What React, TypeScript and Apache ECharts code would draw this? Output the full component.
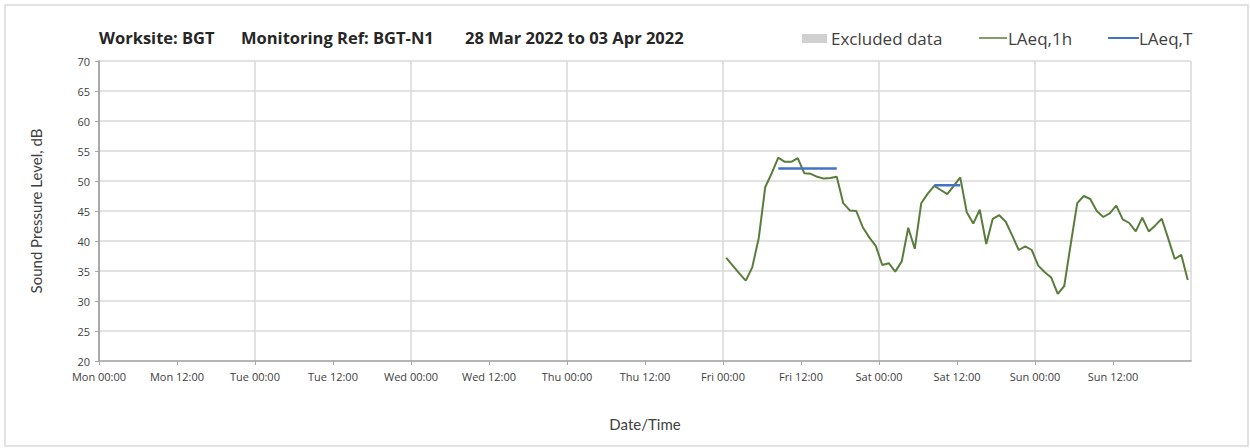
import React, { useEffect, useRef } from "react";
import * as echarts from "echarts";

// Tick labels for x axis (every 12 hours starting Mon 00:00)
const xTickLabels = [
  "Mon 00:00", "Mon 12:00", "Tue 00:00", "Tue 12:00", "Wed 00:00", "Wed 12:00",
  "Thu 00:00", "Thu 12:00", "Fri 00:00", "Fri 12:00", "Sat 00:00", "Sat 12:00",
  "Sun 00:00", "Sun 12:00", "Mon 00:00",
];

// Hourly LAeq,1h values, first one at Fri 00:30 (hours since Mon 00:00)
const hourlyStartHour = 96.5;
const laeq1h = [
  // Fri
  37.2, 35.9, 34.6, 33.4, 35.6, 40.5, 49.0, 51.3, 53.9, 53.2, 53.2, 53.8,
  51.3, 51.2, 50.7, 50.4, 50.5, 50.7, 46.3, 45.1, 45.0, 42.3, 40.6, 39.2,
  // Sat
  36.0, 36.3, 34.9, 36.6, 42.2, 38.7, 46.3, 47.9, 49.2, 48.5, 47.8, 49.2,
  50.6, 44.8, 42.9, 45.2, 39.5, 43.7, 44.3, 43.2, 40.9, 38.5, 39.1, 38.5,
  // Sun
  35.9, 34.8, 33.9, 31.2, 32.5, 39.5, 46.3, 47.5, 47.0, 45.0, 44.0, 44.6,
  45.9, 43.6, 43.0, 41.6, 43.9, 41.6, 42.6, 43.7, 40.4, 37.0, 37.7, 33.5,
];

// LAeq,T periods: start hour, end hour, level
const laeqTStart = [104.5, 128.5];
const laeqTEnd = [113.5, 132.5];
const laeqTValue = [52.1, 49.3];

const titleParts = ["Worksite: BGT", "Monitoring Ref: BGT-N1", "28 Mar 2022 to 03 Apr 2022"];
const legendLabels = ["Excluded data", "LAeq,1h", "LAeq,T"];
const yAxisTitle = "Sound Pressure Level, dB";
const xAxisTitle = "Date/Time";

const FONT = "Lato, 'Open Sans', sans-serif";
const FONT2 = "'Open Sans', Lato, sans-serif";
const GREEN = "#5a7d3c";
const BLUE = "#4472c4";

export default function App() {
  const ref = useRef<HTMLDivElement>(null);

  useEffect(() => {
    if (!ref.current) return;
    const chart = echarts.init(ref.current, undefined, { renderer: "svg" });

    const lineData = laeq1h.map((v, i) => [hourlyStartHour + i, v]);
    const tSeries = laeqTValue.map((v, i) => ({
      name: "LAeq,T",
      type: "line",
      xAxisIndex: 0,
      yAxisIndex: 0,
      data: [
        [laeqTStart[i], v],
        [laeqTEnd[i], v],
      ],
      showSymbol: false,
      symbol: "none",
      lineStyle: { color: BLUE, width: 2.5 },
      z: 3,
    }));

    const titleX = [99, 241, 465];
    const textStyle = (text: string, bold: boolean) => ({
      text,
      fontFamily: FONT2,
      fontWeight: bold ? "bold" : "normal",
      fontSize: bold ? 16.5 : 17,
      fill: bold ? "#262626" : "#404040",
      textVerticalAlign: "middle",
    });

    chart.setOption({
      animation: false,
      backgroundColor: "#ffffff",
      textStyle: { fontFamily: FONT },
      grid: { left: 99, right: 59, top: 61, bottom: 87, containLabel: false },
      xAxis: [
        {
          type: "value",
          min: 0,
          max: 168,
          interval: 12,
          axisLine: { show: true, lineStyle: { color: "#a6a6a6", width: 1.5 } },
          axisTick: { show: true, length: 4, lineStyle: { color: "#a6a6a6" } },
          axisLabel: {
            color: "#404040",
            fontSize: 11,
            fontFamily: FONT2,
            margin: 10,
            showMaxLabel: false,
            formatter: (v: number) => xTickLabels[Math.round(v / 12)] ?? "",
          },
          splitLine: { show: false },
          name: xAxisTitle,
          nameLocation: "middle",
          nameGap: 55,
          nameTextStyle: { color: "#404040", fontSize: 15, fontFamily: FONT },
        },
        {
          type: "value",
          min: 0,
          max: 168,
          interval: 24,
          position: "bottom",
          axisLine: { show: false },
          axisTick: { show: false },
          axisLabel: { show: false },
          splitLine: { show: true, lineStyle: { color: "#d9d9d9", width: 1.5 } },
        },
      ],
      yAxis: [
        {
          type: "value",
          min: 20,
          max: 70,
          interval: 5,
          axisLine: { show: true, lineStyle: { color: "#a6a6a6", width: 1.5 } },
          axisTick: { show: true, length: 4, lineStyle: { color: "#a6a6a6" } },
          axisLabel: { color: "#404040", fontSize: 11, fontFamily: FONT2, margin: 9 },
          splitLine: { show: true, lineStyle: { color: "#d9d9d9", width: 1.5 } },
          name: yAxisTitle,
          nameLocation: "middle",
          nameGap: 56,
          nameRotate: 90,
          nameTextStyle: { color: "#404040", fontSize: 15, fontFamily: FONT },
        },
        {
          type: "value",
          min: 20,
          max: 70,
          interval: 5,
          position: "right",
          axisLine: { show: true, lineStyle: { color: "#a6a6a6", width: 1.5 } },
          axisTick: { show: false },
          axisLabel: { show: false },
          splitLine: { show: false },
        },
      ],
      series: [
        {
          name: "LAeq,1h",
          type: "line",
          xAxisIndex: 0,
          yAxisIndex: 0,
          data: lineData,
          showSymbol: false,
          symbol: "none",
          lineStyle: { color: GREEN, width: 2 },
          z: 2,
        },
        ...tSeries,
      ],
      graphic: [
        {
          type: "rect",
          shape: { x: 5, y: 5, width: 1243, height: 441 },
          style: { fill: "none", stroke: "#d9d9d9", lineWidth: 1.5 },
          silent: true,
          z: -10,
        },
        ...titleParts.map((t, i) => ({
          type: "text",
          x: titleX[i],
          y: 37,
          style: textStyle(t, true),
        })),
        {
          type: "rect",
          shape: { x: 802, y: 34, width: 25, height: 9 },
          style: { fill: "#d0d0d0" },
        },
        { type: "text", x: 831, y: 38, style: textStyle(legendLabels[0], false) },
        {
          type: "line",
          shape: { x1: 979, y1: 38, x2: 1007, y2: 38 },
          style: { stroke: GREEN, lineWidth: 1.5 },
        },
        { type: "text", x: 1008, y: 38, style: textStyle(legendLabels[1], false) },
        {
          type: "line",
          shape: { x1: 1108, y1: 38, x2: 1139, y2: 38 },
          style: { stroke: BLUE, lineWidth: 2 },
        },
        { type: "text", x: 1139, y: 38, style: textStyle(legendLabels[2], false) },
      ],
    });

    return () => {
      chart.dispose();
    };
  }, []);

  return (
    <div
      ref={ref}
      style={{ position: "absolute", left: 0, top: 0, width: 1250, height: 448 }}
    />
  );
}
